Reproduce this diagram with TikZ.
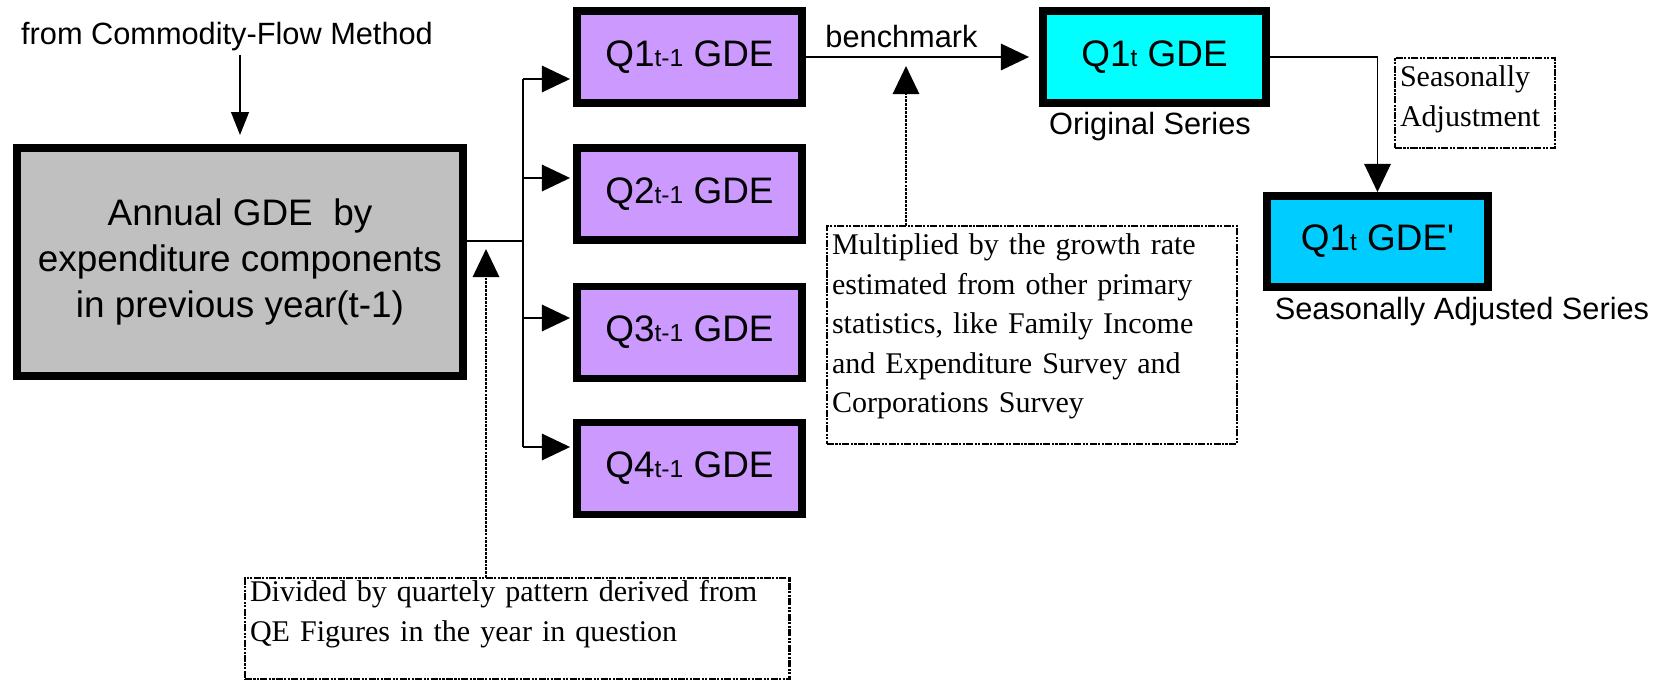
\documentclass[tikz,border=0pt]{standalone}
\usepackage{fontspec}
\setmainfont{Liberation Sans}
\newfontfamily\notefont{Liberation Serif}
\usetikzlibrary{arrows.meta}

\definecolor{annualgray}{RGB}{192,192,192}
\definecolor{qpurple}{RGB}{204,153,255}
\definecolor{origcyan}{RGB}{0,255,255}
\definecolor{sablue}{RGB}{0,204,255}
\newcommand{\qsub}[1]{{\fontsize{14pt}{14pt}\selectfont #1}}

\begin{document}
\begin{tikzpicture}[x=0.02cm, y=-0.02cm,
    box/.style={draw, line width=4.5pt, inner sep=0pt, align=center,
        font=\fontsize{21pt}{26.4pt}\selectfont},
    qbox/.style={box, fill=qpurple, minimum width=4.5cm, minimum height=1.84cm},
    plaintext/.style={inner sep=2pt, font=\fontsize{17.5pt}{21pt}\selectfont},
    notebox/.style={draw, line width=1.6pt,
        dash pattern=on 4pt off 0.8pt on 1.2pt off 0.8pt on 1.2pt off 0.8pt,
        anchor=north west, inner sep=0.1cm, outer sep=0pt, align=left,
        font=\notefont\fontsize{17.1pt}{22.4pt}\selectfont},
    link/.style={line width=1.1pt},
    bigarr/.style={link, -{Triangle[length=16pt,width=15pt]}},
    smallarr/.style={link, -{Triangle[length=13pt,width=10pt]}},
    dotarr/.style={bigarr, line width=1.3pt, dash pattern=on 1.6pt off 0.6pt}]
    \useasboundingbox (0,0) rectangle (1661,682);

    \node[plaintext] (cfm) at (227,37) {from Commodity-Flow Method};
    \node[box, fill=annualgray, minimum width=8.92cm, minimum height=4.56cm] (annual) at (240,262)
        {Annual GDE\ \ by\\expenditure components\\in previous year(t-1)};

    \node[qbox] (q1) at (689.5,57) {Q1\qsub{t-1} GDE};
    \node[qbox] (q2) at (689.5,194) {Q2\qsub{t-1} GDE};
    \node[qbox] (q3) at (689.5,332.5) {Q3\qsub{t-1} GDE};
    \node[qbox] (q4) at (689.5,468.5) {Q4\qsub{t-1} GDE};

    \node[box, fill=origcyan, minimum width=4.46cm, minimum height=1.84cm] (q1t) at (1154.5,57) {Q1\qsub{t} GDE};
    \node[plaintext] (orig) at (1150,127) {Original Series};
    \node[box, fill=sablue, minimum width=4.42cm, minimum height=1.82cm] (q1tsa) at (1377.5,241.5) {Q1\qsub{t} GDE\textquotesingle};
    \node[plaintext] (saseries) at (1462,312) {Seasonally Adjusted Series};

    % notes
    \node[notebox, text width=10.7cm, text height=0.38cm, text depth=1.44cm] (divnote) at (245,578)
        {Divided by quartely pattern derived from\\QE Figures in the year in question};
    \node[notebox, text width=8cm, text height=0.48cm, text depth=3.68cm] (multnote) at (827,226)
        {Multiplied by the growth rate\\estimated from other primary\\statistics, like Family Income\\and Expenditure Survey and\\Corporations Survey};
    \node[notebox, text width=3cm, text height=0.48cm, text depth=1.12cm] (sanote) at (1395,58)
        {Seasonally\\Adjustment};

    % annual -> quarters
    \draw[smallarr, shorten >=0.18cm] (cfm.south -| annual.north) -- (annual.north);
    \coordinate (fork) at (523,241);
    \draw[link] (fork -| annual.east) -- (fork);
    \foreach \q/\s in {q1/-0.44cm, q2/0.32cm, q3/0.29cm, q4/0.43cm}
        \coordinate (in\q) at ([yshift=\s]\q.west);
    \draw[link] (fork |- inq1) -- (fork |- inq4);
    \foreach \q in {q1,q2,q3,q4}
        \draw[bigarr, shorten >=0.06cm] (fork |- in\q) -- (in\q);

    \draw[bigarr, shorten >=0.2cm] (q1.east) -- (q1t.west)
        node[plaintext, pos=0.41, above=0.1cm] (bm) {benchmark};
    \draw[bigarr] (q1t.east) -| (q1tsa.north);

    \coordinate (divtip) at (486,249);
    \draw[dotarr] (divnote.north -| divtip) -- (divtip);
    \coordinate (multtip) at (906,66);
    \draw[dotarr] (multnote.north -| multtip) -- (multtip);
\end{tikzpicture}
\end{document}
